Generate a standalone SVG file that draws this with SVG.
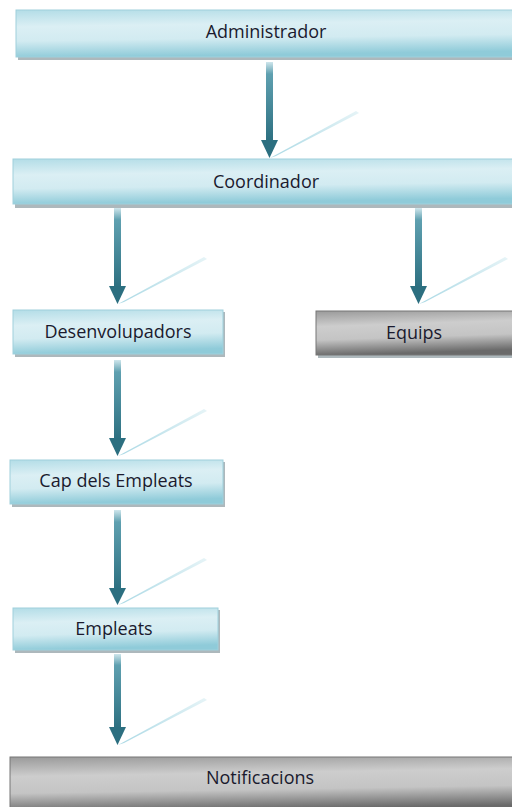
<svg xmlns="http://www.w3.org/2000/svg" width="512" height="807" viewBox="0 0 512 807">
<style>
  .lbl { font-family: "Open Sans", "Liberation Sans", sans-serif; font-size: 18px; fill: #1a1a2e; text-anchor: middle; }
  .shadow { fill: #8a9aa0; opacity: 0.7; }
  .blue { fill: url(#gBlue); stroke: #9fd0dc; stroke-width: 1; }
  .gray { fill: url(#gGray); stroke: #777; stroke-width: 1; }
  .shaft { fill: url(#gShaft); }
  .head { fill: #2c6f80; }
  .refl { fill: url(#gRefl); }
</style>
<defs>
  <linearGradient id="gBlue" x1="0" y1="0" x2="0.15" y2="1">
    <stop offset="0" stop-color="#b3dde7"/>
    <stop offset="0.35" stop-color="#dbeff4"/>
    <stop offset="0.65" stop-color="#d2ebf1"/>
    <stop offset="1" stop-color="#8fcbd9"/>
  </linearGradient>
  <linearGradient id="gGray" x1="0" y1="0" x2="0.15" y2="1">
    <stop offset="0" stop-color="#9a9a9a"/>
    <stop offset="0.35" stop-color="#cdcdcd"/>
    <stop offset="0.65" stop-color="#c4c4c4"/>
    <stop offset="1" stop-color="#6a6a6a"/>
  </linearGradient>
  <linearGradient id="gShaft" x1="0" y1="0" x2="0" y2="1">
    <stop offset="0" stop-color="#cfe6ec"/>
    <stop offset="0.15" stop-color="#5fa0b0"/>
    <stop offset="1" stop-color="#2c6f80"/>
  </linearGradient>
  <linearGradient id="gRefl" x1="0" y1="1" x2="1" y2="0">
    <stop offset="0" stop-color="#a9d8e4"/>
    <stop offset="1" stop-color="#e6f4f7"/>
  </linearGradient>
</defs>

<g id="connectors">
  <g id="c1">
    <rect class="shaft" x="266" y="62" width="7" height="80"/>
    <polygon class="head" points="261,140 278,140 269.5,158"/>
    <polygon class="refl" points="270,158 356,111 359,113 276,156"/>
  </g>
  <g id="c2">
    <rect class="shaft" x="114" y="208" width="7" height="80"/>
    <polygon class="head" points="109,286 126,286 117.5,304"/>
    <polygon class="refl" points="118,304 204,257 207,259 124,302"/>
  </g>
  <g id="c3">
    <rect class="shaft" x="415" y="208" width="7" height="80"/>
    <polygon class="head" points="410,286 427,286 418.5,304"/>
    <polygon class="refl" points="419,304 505,257 508,259 425,302"/>
  </g>
  <g id="c4">
    <rect class="shaft" x="114" y="360" width="7" height="80"/>
    <polygon class="head" points="109,438 126,438 117.5,456"/>
    <polygon class="refl" points="118,456 204,409 207,411 124,454"/>
  </g>
  <g id="c5">
    <rect class="shaft" x="114" y="510" width="7" height="80"/>
    <polygon class="head" points="109,588 126,588 117.5,605"/>
    <polygon class="refl" points="118,605 204,558 207,560 124,603"/>
  </g>
  <g id="c6">
    <rect class="shaft" x="114" y="654" width="7" height="75"/>
    <polygon class="head" points="109,727 126,727 117.5,745"/>
    <polygon class="refl" points="118,745 204,698 207,700 124,743"/>
  </g>
</g>

<g id="administrador">
  <rect class="shadow" x="18" y="12" width="500" height="48"/>
  <rect class="blue" x="16" y="10" width="500" height="47"/>
  <text class="lbl" x="266" y="38">Administrador</text>
</g>

<g id="coordinador">
  <rect class="shadow" x="15" y="162" width="503" height="46"/>
  <rect class="blue" x="13" y="159" width="503" height="45"/>
  <text class="lbl" x="266" y="188">Coordinador</text>
</g>

<g id="desenvolupadors">
  <rect class="shadow" x="15" y="312" width="210" height="45"/>
  <rect class="blue" x="13" y="310" width="210" height="44"/>
  <text class="lbl" x="118" y="338">Desenvolupadors</text>
</g>

<g id="equips">
  <rect class="shadow" x="318" y="313" width="200" height="45"/>
  <rect class="gray" x="316" y="311" width="200" height="44"/>
  <text class="lbl" x="414" y="339">Equips</text>
</g>

<g id="cap">
  <rect class="shadow" x="12" y="462" width="213" height="45"/>
  <rect class="blue" x="10" y="460" width="213" height="44"/>
  <text class="lbl" x="116" y="487">Cap dels Empleats</text>
</g>

<g id="empleats">
  <rect class="shadow" x="15" y="610" width="205" height="43"/>
  <rect class="blue" x="13" y="608" width="205" height="42"/>
  <text class="lbl" x="114" y="635">Empleats</text>
</g>

<g id="notificacions">
  <rect class="gray" x="10" y="757" width="506" height="55"/>
  <text class="lbl" x="260" y="784">Notificacions</text>
</g>
</svg>
